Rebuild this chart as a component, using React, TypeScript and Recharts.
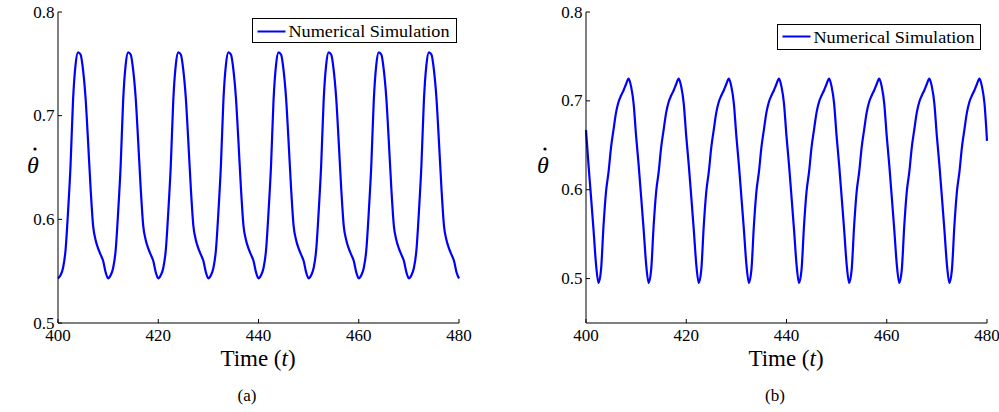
import React from 'react'
import { LineChart, Line, XAxis, YAxis, Legend } from 'recharts'

const timeStart = 400
const timeStep = 0.5
const timeDomain = [400, 480]
const timeTicks = [400, 420, 440, 460, 480]
const thetaTicks = [0.5, 0.6, 0.7, 0.8]
const seriesName = 'Numerical Simulation'

// (a), t = 400..480 every 0.5, one row per period
const thetaDotA = [
  0.543, 0.546, 0.553, 0.570, 0.607, 0.652, 0.715, 0.749, 0.761, 0.759, 0.744, 0.717, 0.675, 0.630, 0.594, 0.580, 0.572, 0.566, 0.560, 0.549,
  0.543, 0.546, 0.553, 0.570, 0.607, 0.652, 0.715, 0.749, 0.761, 0.759, 0.744, 0.717, 0.675, 0.630, 0.594, 0.580, 0.572, 0.566, 0.560, 0.549,
  0.543, 0.546, 0.553, 0.570, 0.607, 0.652, 0.715, 0.749, 0.761, 0.759, 0.744, 0.717, 0.675, 0.630, 0.594, 0.580, 0.572, 0.566, 0.560, 0.549,
  0.543, 0.546, 0.553, 0.570, 0.607, 0.652, 0.715, 0.749, 0.761, 0.759, 0.744, 0.717, 0.675, 0.630, 0.594, 0.580, 0.572, 0.566, 0.560, 0.549,
  0.543, 0.546, 0.553, 0.570, 0.607, 0.652, 0.715, 0.749, 0.761, 0.759, 0.744, 0.717, 0.675, 0.630, 0.594, 0.580, 0.572, 0.566, 0.560, 0.549,
  0.543, 0.546, 0.553, 0.570, 0.607, 0.652, 0.715, 0.749, 0.761, 0.759, 0.744, 0.717, 0.675, 0.630, 0.594, 0.580, 0.572, 0.566, 0.560, 0.549,
  0.543, 0.546, 0.553, 0.570, 0.607, 0.652, 0.715, 0.749, 0.761, 0.759, 0.744, 0.717, 0.675, 0.630, 0.594, 0.580, 0.572, 0.566, 0.560, 0.549,
  0.543, 0.546, 0.553, 0.570, 0.607, 0.652, 0.715, 0.749, 0.761, 0.759, 0.744, 0.717, 0.675, 0.630, 0.594, 0.580, 0.572, 0.566, 0.560, 0.549,
  0.543,
]

// (b), same time grid
const thetaDotB = [
  0.667, 0.628, 0.592, 0.555, 0.516, 0.495, 0.510, 0.560, 0.598, 0.620, 0.648, 0.668, 0.687, 0.699, 0.706, 0.712, 0.719, 0.725, 0.716, 0.697,
  0.660, 0.628, 0.592, 0.555, 0.516, 0.495, 0.510, 0.560, 0.598, 0.620, 0.648, 0.668, 0.687, 0.699, 0.706, 0.712, 0.719, 0.725, 0.716, 0.697,
  0.660, 0.628, 0.592, 0.555, 0.516, 0.495, 0.510, 0.560, 0.598, 0.620, 0.648, 0.668, 0.687, 0.699, 0.706, 0.712, 0.719, 0.725, 0.716, 0.697,
  0.660, 0.628, 0.592, 0.555, 0.516, 0.495, 0.510, 0.560, 0.598, 0.620, 0.648, 0.668, 0.687, 0.699, 0.706, 0.712, 0.719, 0.725, 0.716, 0.697,
  0.660, 0.628, 0.592, 0.555, 0.516, 0.495, 0.510, 0.560, 0.598, 0.620, 0.648, 0.668, 0.687, 0.699, 0.706, 0.712, 0.719, 0.725, 0.716, 0.697,
  0.660, 0.628, 0.592, 0.555, 0.516, 0.495, 0.510, 0.560, 0.598, 0.620, 0.648, 0.668, 0.687, 0.699, 0.706, 0.712, 0.719, 0.725, 0.716, 0.697,
  0.660, 0.628, 0.592, 0.555, 0.516, 0.495, 0.510, 0.560, 0.598, 0.620, 0.648, 0.668, 0.687, 0.699, 0.706, 0.712, 0.719, 0.725, 0.716, 0.697,
  0.660, 0.628, 0.592, 0.555, 0.516, 0.495, 0.510, 0.560, 0.598, 0.620, 0.648, 0.668, 0.687, 0.699, 0.706, 0.712, 0.719, 0.725, 0.716, 0.697,
  0.655,
]

const toRows = (values: number[]) => values.map((v, i) => ({ t: timeStart + i * timeStep, v }))

const serif = "'Liberation Serif', 'DejaVu Serif', serif"
const TICK = 4

function BottomTick({ x, y, payload }: any) {
  return (
    <g>
      <line x1={x} x2={x} y1={y} y2={y - TICK} stroke="#000" />
      <text x={x} y={y + 17.5} textAnchor="middle" fill="#000" style={{ fontFamily: serif, fontSize: 17 }}>
        {payload.value}
      </text>
    </g>
  )
}

function TopTick({ x, y }: any) {
  return <line x1={x} x2={x} y1={y} y2={y + TICK} stroke="#000" />
}

function LeftTick({ x, y, payload }: any) {
  return (
    <g>
      <line x1={x} x2={x + TICK} y1={y} y2={y} stroke="#000" />
      <text x={x - 3.5} y={y + 5.5} textAnchor="end" fill="#000" style={{ fontFamily: serif, fontSize: 17 }}>
        {payload.value}
      </text>
    </g>
  )
}

function RightTick({ x, y }: any) {
  return <line x1={x} x2={x - TICK} y1={y} y2={y} stroke="#000" />
}

function LegendBox({ width, height, lineY, textY }: any) {
  return (
    <svg width={width} height={height} style={{ display: 'block' }}>
      <rect x={0.5} y={0.5} width={width - 1} height={height - 1} fill="#fff" stroke="#000" />
      <line x1={5.5} x2={33.5} y1={lineY} y2={lineY} stroke="#0000ff" strokeWidth={2} />
      <text
        x={36.5}
        y={textY}
        fill="#000"
        textLength={161}
        lengthAdjust="spacingAndGlyphs"
        style={{ fontFamily: serif, fontSize: 17 }}
      >
        {seriesName}
      </text>
    </svg>
  )
}

function Panel({ values, yDomain, width, left, legend }: any) {
  const data = toRows(values)
  return (
    <div style={{ position: 'absolute', left, top: 0 }}>
      <LineChart width={width} height={412} data={data} margin={{ top: 12, right: width - 459, bottom: 59, left: 0 }}>
        <XAxis
          dataKey="t"
          type="number"
          domain={timeDomain}
          ticks={timeTicks}
          interval={0}
          tick={<BottomTick />}
          tickLine={false}
          tickSize={0}
          tickMargin={0}
          height={30}
          axisLine={{ stroke: '#000' }}
        />
        <XAxis
          xAxisId="top"
          orientation="top"
          dataKey="t"
          type="number"
          domain={timeDomain}
          ticks={timeTicks}
          interval={0}
          tick={<TopTick />}
          tickLine={false}
          tickSize={0}
          tickMargin={0}
          height={0}
          axisLine={{ stroke: '#000' }}
        />
        <YAxis
          type="number"
          domain={yDomain}
          ticks={thetaTicks}
          interval={0}
          tick={<LeftTick />}
          tickLine={false}
          tickSize={0}
          tickMargin={0}
          width={58}
          axisLine={{ stroke: '#000' }}
        />
        <YAxis
          yAxisId="right"
          orientation="right"
          type="number"
          domain={yDomain}
          ticks={thetaTicks}
          interval={0}
          tick={<RightTick />}
          tickLine={false}
          tickSize={0}
          tickMargin={0}
          width={0}
          axisLine={{ stroke: '#000' }}
        />
        <Line
          type="monotone"
          dataKey="v"
          name={seriesName}
          stroke="#0000ff"
          strokeWidth={2.2}
          dot={false}
          activeDot={false}
          isAnimationActive={false}
        />
        <Legend
          layout="vertical"
          align="center"
          verticalAlign="middle"
          wrapperStyle={{ left: legend.left, top: legend.top, width: legend.width, height: legend.height }}
          content={() => <LegendBox {...legend} />}
        />
      </LineChart>
    </div>
  )
}

export default function App() {
  const label = { fontFamily: serif, fill: '#000' }
  return (
    <div style={{ position: 'relative', width: 999, height: 412, background: '#fff', overflow: 'hidden' }}>
      <style>{'body{margin:0}'}</style>
      <Panel
        values={thetaDotA}
        yDomain={[0.5, 0.8]}
        width={480}
        left={0}
        legend={{ left: 252, top: 18, width: 205, height: 25, lineY: 13.5, textY: 18.5 }}
      />
      <Panel
        values={thetaDotB}
        yDomain={[0.45, 0.8]}
        width={471}
        left={528}
        legend={{ left: 249, top: 24, width: 204, height: 26, lineY: 12.5, textY: 18.5 }}
      />
      <svg width={999} height={412} style={{ position: 'absolute', left: 0, top: 0, pointerEvents: 'none' }}>
        <text x={258} y={366} textAnchor="middle" style={{ ...label, fontSize: 23 }}>
          Time (<tspan fontStyle="italic">t</tspan>)
        </text>
        <text x={786} y={366} textAnchor="middle" style={{ ...label, fontSize: 23 }}>
          Time (<tspan fontStyle="italic">t</tspan>)
        </text>
        <text x={33} y={173} textAnchor="middle" style={{ ...label, fontSize: 24, fontStyle: 'italic' }}>θ</text>
        <circle cx={35} cy={149} r={1.6} fill="#000" />
        <text x={543} y={173} textAnchor="middle" style={{ ...label, fontSize: 24, fontStyle: 'italic' }}>θ</text>
        <circle cx={545} cy={149} r={1.6} fill="#000" />
        <text x={247} y={401} textAnchor="middle" style={{ ...label, fontSize: 17 }}>(a)</text>
        <text x={775} y={401} textAnchor="middle" style={{ ...label, fontSize: 17 }}>(b)</text>
      </svg>
    </div>
  )
}
